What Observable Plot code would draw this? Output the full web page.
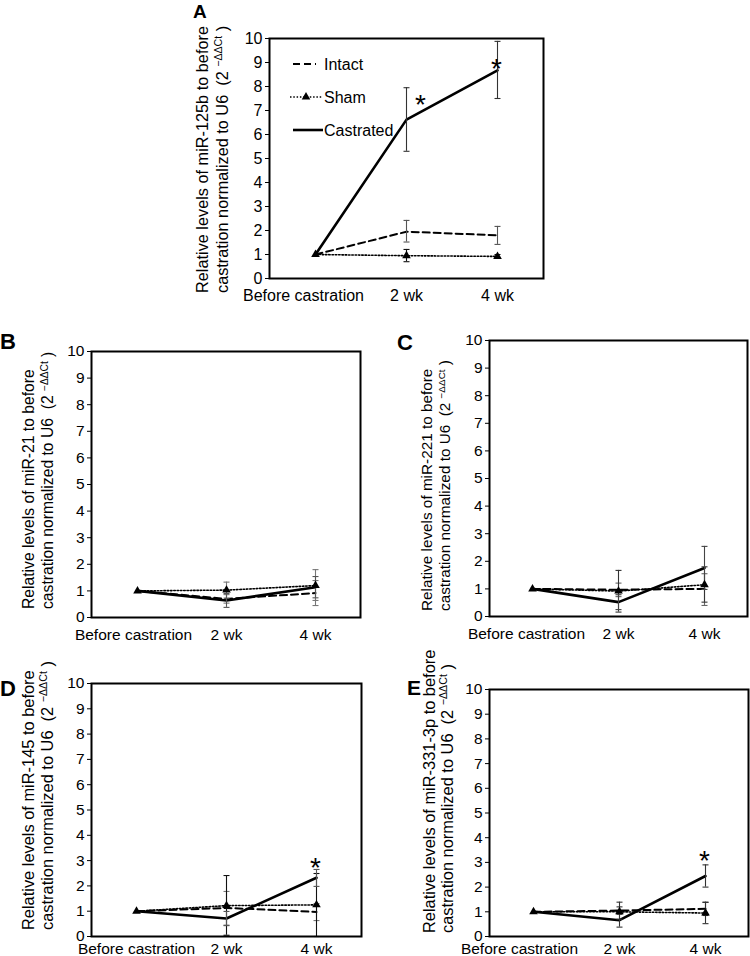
<!DOCTYPE html>
<html>
<head>
<meta charset="utf-8">
<script src="https://cdn.jsdelivr.net/npm/d3@7"></script>
<script src="https://cdn.jsdelivr.net/npm/@observablehq/plot@0.6"></script>
<style>
  html, body { margin: 0; padding: 0; background: #fff; }
  #fig { position: relative; width: 750px; height: 956px; overflow: hidden; background: #fff; }
  #fig > div { position: absolute; }
  svg { overflow: visible; }
</style>
</head>
<body>
<div id="fig"></div>
<script>
// ---------------- DATA ----------------
const timepoints = ["Before castration", "2 wk", "4 wk"];
const seriesNames = ["Intact", "Sham", "Castrated"];
const panelIds = ["A", "B", "C", "D", "E"];
const mirnas = ["miR-125b", "miR-21", "miR-221", "miR-145", "miR-331-3p"];
const yTicks = [0, 1, 2, 3, 4, 5, 6, 7, 8, 9, 10];

// mean values [Before, 2 wk, 4 wk]
const intactA = [1, 1.95, 1.80];
const shamA = [1, 0.95, 0.92];
const castratedA = [1, 6.62, 8.67];
const intactB = [1, 0.70, 0.92];
const shamB = [1, 1.03, 1.20];
const castratedB = [1, 0.64, 1.14];
const intactC = [1, 0.97, 1.00];
const shamC = [1, 0.92, 1.15];
const castratedC = [1, 0.52, 1.76];
const intactD = [1, 1.13, 0.97];
const shamD = [1, 1.22, 1.25];
const castratedD = [1, 0.71, 2.32];
const intactE = [1, 1.05, 1.12];
const shamE = [1, 1.00, 0.95];
const castratedE = [1, 0.66, 2.45];

// error bar ends [Before, 2 wk, 4 wk]
const intactLoA = [null, 1.52, 1.42], intactHiA = [null, 2.42, 2.17];
const shamLoA = [null, 0.70, 0.85], shamHiA = [null, 1.21, 1.00];
const castratedLoA = [null, 5.30, 7.50], castratedHiA = [null, 7.95, 9.88];
const intactLoB = [null, 0.54, 0.45], intactHiB = [null, 0.86, 1.39];
const shamLoB = [null, 0.73, 0.64], shamHiB = [null, 1.33, 1.80];
const castratedLoB = [null, 0.38, 0.74], castratedHiB = [null, 0.90, 1.54];
const intactLoC = [null, 0.72, 0.40], intactHiC = [null, 1.21, 1.55];
const shamLoC = [null, 0.16, 0.52], shamHiC = [null, 1.67, 1.80];
const castratedLoC = [null, 0.25, 0.98], castratedHiC = [null, 0.79, 2.54];
const intactLoD = [null, 0.45, 0.63], intactHiD = [null, 1.78, 1.30];
const shamLoD = [null, 0.05, 0.00], shamHiD = [null, 2.41, 2.49];
const castratedLoD = [null, 0.43, 1.98], castratedHiD = [null, 0.99, 2.65];
const intactLoE = [null, 0.90, 0.85], intactHiE = [null, 1.20, 1.39];
const shamLoE = [null, 0.70, 0.52], shamHiE = [null, 1.39, 1.38];
const castratedLoE = [null, 0.38, 2.00], castratedHiE = [null, 0.94, 2.90];

// significance marks (panel, timepoint, y value of the asterisk)
const sigPanel = ["A", "A", "D", "E"];
const sigTime = ["2 wk", "4 wk", "4 wk", "4 wk"];
const sigY = [7.5, 9.0, 3.0, 3.35];

// ---------------- TABLES ----------------
const means = {
  A: [intactA, shamA, castratedA], B: [intactB, shamB, castratedB], C: [intactC, shamC, castratedC],
  D: [intactD, shamD, castratedD], E: [intactE, shamE, castratedE]
};
const lows = {
  A: [intactLoA, shamLoA, castratedLoA], B: [intactLoB, shamLoB, castratedLoB], C: [intactLoC, shamLoC, castratedLoC],
  D: [intactLoD, shamLoD, castratedLoD], E: [intactLoE, shamLoE, castratedLoE]
};
const highs = {
  A: [intactHiA, shamHiA, castratedHiA], B: [intactHiB, shamHiB, castratedHiB], C: [intactHiC, shamHiC, castratedHiC],
  D: [intactHiD, shamHiD, castratedHiD], E: [intactHiE, shamHiE, castratedHiE]
};

// ---------------- STYLE / LAYOUT ----------------
const FONT = "'Liberation Sans', Arial, Helvetica, sans-serif";
const lineStyle = {
  Intact: {stroke: "black", strokeWidth: 2, strokeDasharray: "7,4"},
  Sham: {stroke: "black", strokeWidth: 1.6, strokeDasharray: "1.5,1.8"},
  Castrated: {stroke: "black", strokeWidth: 2.6}
};
const errColor = {
  A: {Intact: "#555", Sham: "#111", Castrated: "#333"},
  B: {Intact: "#777", Sham: "#777", Castrated: "#555"},
  C: {Intact: "#666", Sham: "#333", Castrated: "#444"},
  D: {Intact: "#777", Sham: "#111", Castrated: "#555"},
  E: {Intact: "#333", Sham: "#333", Castrated: "#333"}
};
// fs: axis-title font, tf: tick font, xdx: shift of first category label, tb: bottom end of axis title, lf: panel letter font
const layout = {
  A: {left: 170, top: 0, width: 390, height: 312, ml: 99, mr: 17, mt: 38, mb: 34, tp: 11, lx: 23, ly: 18, lf: 19, tx: [32, 52], tb: 293, fs: 16.3, tf: 16, xdx: -12},
  B: {left: 0, top: 325, width: 370, height: 330, ml: 91, mr: 10, mt: 26, mb: 38, tp: 11, lx: 0, ly: 24, lf: 22, tx: [28, 47], tb: 284, fs: 15.7, tf: 15.5, xdx: -4},
  C: {left: 375, top: 325, width: 375, height: 330, ml: 114, mr: 3, mt: 15, mb: 39, tp: 11, lx: 22, ly: 25, lf: 22, tx: [52, 70], tb: 286, fs: 15.3, tf: 15.5, xdx: -6},
  D: {left: 0, top: 655, width: 370, height: 301, ml: 91, mr: 9, mt: 28, mb: 20, tp: 6, lx: 0, ly: 41, lf: 22, tx: [28, 47], tb: 275, fs: 16.4, tf: 15.5, xdx: 0},
  E: {left: 375, top: 655, width: 375, height: 301, ml: 114, mr: 2, mt: 34, mb: 20, tp: 6, lx: 32, ly: 40, lf: 21, tx: [54, 72], tb: 278, fs: 16.4, tf: 15.5, xdx: -14}
};

// horizontal cap symbol for error bars
const capSymbol = {
  draw(context, size) {
    const r = Math.sqrt(size / Math.PI);
    context.moveTo(-r, 0);
    context.lineTo(r, 0);
  }
};

const fig = document.getElementById("fig");

panelIds.forEach((pid, pi) => {
  const L = layout[pid];
  const rows = [];
  seriesNames.forEach((s, si) => {
    timepoints.forEach((t, ti) => {
      rows.push({series: s, t, v: means[pid][si][ti], lo: lows[pid][si][ti], hi: highs[pid][si][ti]});
    });
  });
  const errRows = rows.filter(d => d.lo != null);
  const sig = sigPanel.map((p, i) => ({p, t: sigTime[i], y: sigY[i]})).filter(d => d.p === pid);

  const marks = [
    Plot.axisY({ticks: yTicks, tickSize: 4, tickPadding: 3, label: null, fontSize: L.tf}),
    Plot.axisX({ticks: [timepoints[0]], tickSize: 0, tickPadding: L.tp, dx: L.xdx, label: null, fontSize: L.tf}),
    Plot.axisX({ticks: timepoints.slice(1), tickSize: 0, tickPadding: L.tp, label: null, fontSize: L.tf})
  ];
  seriesNames.forEach(s => {
    marks.push(Plot.line(rows.filter(d => d.series === s), {x: "t", y: "v", ...lineStyle[s]}));
  });
  seriesNames.forEach(s => {
    const er = errRows.filter(d => d.series === s);
    const c = errColor[pid][s];
    marks.push(Plot.ruleX(er, {x: "t", y1: "lo", y2: "hi", stroke: c, strokeWidth: 1.1}));
    marks.push(Plot.dot(er, {x: "t", y: "lo", symbol: capSymbol, r: 3, stroke: c, fill: "none", strokeWidth: 1.1}));
    marks.push(Plot.dot(er, {x: "t", y: "hi", symbol: capSymbol, r: 3, stroke: c, fill: "none", strokeWidth: 1.1}));
  });
  marks.push(Plot.dot(rows.filter(d => d.series === "Sham"), {x: "t", y: "v", symbol: "triangle", r: 3.2, fill: "black", stroke: "none"}));
  sig.forEach(d => {
    marks.push(Plot.text([d], {x: "t", y: "y", text: () => "*", fontSize: 28, dy: 7, dx: (pid === "A" && d.t === "2 wk") ? 14 : -1, fill: "black"}));
  });
  marks.push(Plot.frame({stroke: "black", strokeWidth: 2}));

  const svgNode = Plot.plot({
    width: L.width, height: L.height,
    marginLeft: L.ml, marginRight: L.mr, marginTop: L.mt, marginBottom: L.mb,
    style: {fontFamily: FONT, fontSize: "16px", color: "black", background: "transparent", overflow: "visible"},
    x: {type: "point", domain: timepoints, padding: 0.5},
    y: {domain: [0, 10]},
    marks
  });

  const svg = d3.select(svgNode);
  const g = svg.append("g").attr("font-family", FONT).attr("fill", "black");
  g.append("text")
    .attr("transform", `translate(${L.tx[0]},${L.tb}) rotate(-90)`)
    .attr("text-anchor", "start").attr("dy", "0.35em").attr("font-size", L.fs)
    .text(`Relative levels of ${mirnas[pi]} to before`);
  const t2 = g.append("text")
    .attr("transform", `translate(${L.tx[1]},${L.tb}) rotate(-90)`)
    .attr("text-anchor", "start").attr("dy", "0.35em").attr("font-size", L.fs)
    .style("white-space", "pre");
  t2.append("tspan").text("castration normalized to U6  (2 ");
  t2.append("tspan").attr("font-size", L.fs * 0.65).attr("baseline-shift", "super").text("\u2212\u0394\u0394Ct");
  t2.append("tspan").text(" )");
  g.append("text").attr("x", L.lx).attr("y", L.ly).attr("text-anchor", "start")
    .attr("font-size", L.lf).attr("font-weight", "bold").text(pid);

  if (pid === "A") {
    const lg = g.append("g").attr("font-size", 16);
    const x0 = 293 - L.left, x1 = 316 - L.left, tx = 324 - L.left;
    const ys = [64, 97, 130];
    seriesNames.forEach((s, i) => {
      const st = lineStyle[s];
      const xa = s === "Sham" ? 290 - L.left : x0;
      const xb = s === "Sham" ? 322 - L.left : (s === "Castrated" ? 323 - L.left : x1);
      lg.append("line").attr("x1", xa).attr("x2", xb).attr("y1", ys[i]).attr("y2", ys[i])
        .attr("stroke", "black").attr("stroke-width", st.strokeWidth)
        .attr("stroke-dasharray", st.strokeDasharray || null);
      if (s === "Sham") {
        const cxp = 306 - L.left;
        lg.append("path").attr("d", d3.symbol(d3.symbolTriangle, 3.2 * 3.2 * Math.PI)())
          .attr("transform", `translate(${cxp},${ys[i]})`).attr("fill", "black");
      }
      lg.append("text").attr("x", tx).attr("y", ys[i]).attr("dy", "0.35em")
        .attr("text-anchor", "start").text(s);
    });
  }

  const wrap = document.createElement("div");
  wrap.style.left = L.left + "px";
  wrap.style.top = L.top + "px";
  wrap.appendChild(svgNode);
  fig.appendChild(wrap);
});
</script>
</body>
</html>
